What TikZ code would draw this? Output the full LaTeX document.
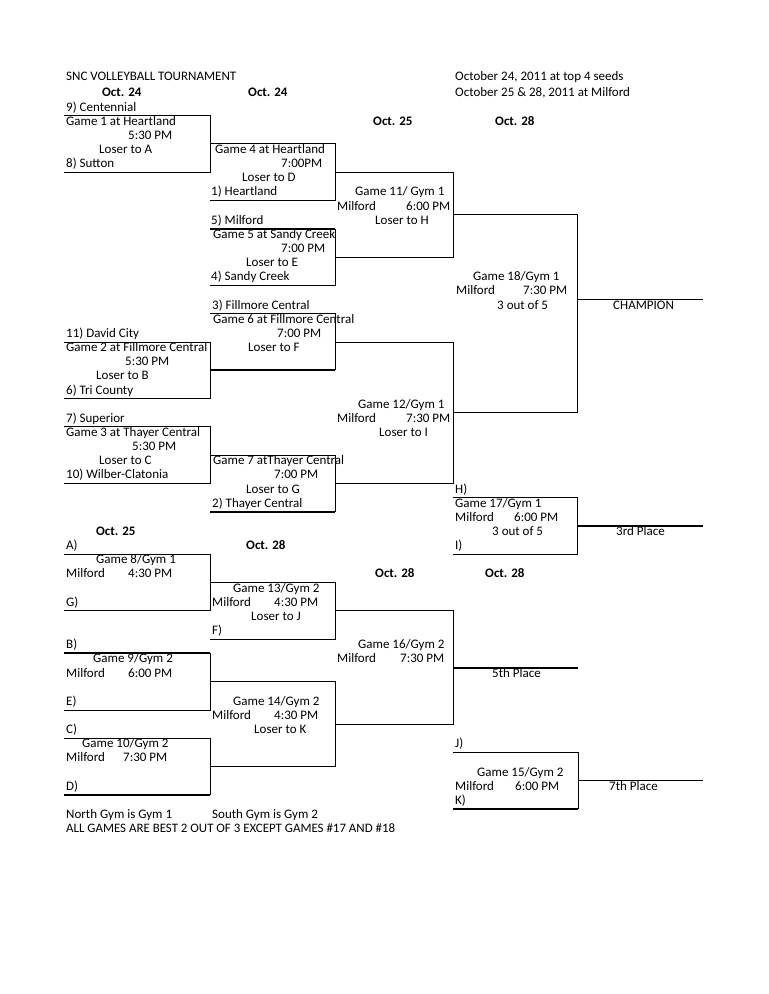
\documentclass[tikz,border=0pt]{standalone}
\usepackage{fontspec}
\setmainfont{Carlito}

\begin{document}
\begin{tikzpicture}[x=1pt,y=-14.15pt,
        txt/.style={anchor=base west,inner sep=0pt,font=\fontsize{13}{14}\selectfont},
        dia/.style={txt,font=\fontsize{13}{14}\selectfont\bfseries},
        linha/.style={line width=1pt},
        grossa/.style={line width=2pt}]
      \fill[white] (0,-7.845) rectangle (768,62.40);
      \useasboundingbox (0,-7.845) rectangle (768,62.40);
      % cabecalho
      \node[txt] (tit) at (66,-2.19) {SNC VOLLEYBALL TOURNAMENT};
      \node[txt] (dt1) at (455,-2.19) {October 24, 2011 at top 4 seeds};
      \node[txt] (dt2) at (455,-1) {October 25 \& 28, 2011 at Milford};
      \node[dia] (d1) at (102,-1) {Oct. 24};
      \node[dia] (d2) at (248,-1) {Oct. 24};
      \node[dia] (d3) at (373,1) {Oct. 25};
      \node[dia] (d4) at (495,1) {Oct. 28};
      % chave principal
      \node[txt] (t9) at (66,0) {9) Centennial};
      \node[txt] (g1) at (66,1) {Game 1 at Heartland};
      \node[txt] (g1h) at (128,2) {5:30 PM};
      \node[txt] (g1p) at (99,3) {Loser to A};
      \node[txt] (t8) at (66,4) {8) Sutton};
      \node[txt] (g4) at (215,3) {Game 4 at Heartland};
      \node[txt] (g4h) at (281,4) {7:00PM};
      \node[txt] (g4p) at (242,5) {Loser to D};
      \node[txt] (t1) at (211,6) {1) Heartland};
      \node[txt] (g11) at (355,6) {Game 11/ Gym 1};
      \node[txt] (g11l) at (337,7) {Milford};
      \node[txt] (g11h) at (406,7) {6:00 PM};
      \node[txt] (g11p) at (375,8) {Loser to H};
      \node[txt] (t5) at (211,8) {5) Milford};
      \node[txt] (g5) at (213,9) {Game 5 at Sandy Creek};
      \node[txt] (g5h) at (281,10) {7:00 PM};
      \node[txt] (g5p) at (246,11) {Loser to E};
      \node[txt] (t4) at (211,12) {4) Sandy Creek};
      \node[txt] (g18) at (473,12) {Game 18/Gym 1};
      \node[txt] (g18l) at (456,13) {Milford};
      \node[txt] (g18h) at (523,13) {7:30 PM};
      \node[txt] (g18p) at (497,14) {3 out of 5};
      \node[txt] (camp) at (613,14) {CHAMPION};
      \node[txt] (t3) at (212,14) {3) Fillmore Central};
      \node[txt] (g6) at (213,15) {Game 6 at Fillmore Central};
      \node[txt] (g6h) at (277,16) {7:00 PM};
      \node[txt] (g6p) at (248,17) {Loser to F};
      \node[txt] (t11) at (66,16) {11) David City};
      \node[txt] (g2) at (66,17) {Game 2 at Fillmore Central};
      \node[txt] (g2h) at (125,18) {5:30 PM};
      \node[txt] (g2p) at (96,19) {Loser to B};
      \node[txt] (t6) at (66,20) {6) Tri County};
      \node[txt] (g12) at (358,21) {Game 12/Gym 1};
      \node[txt] (g12l) at (337,22) {Milford};
      \node[txt] (g12h) at (406,22) {7:30 PM};
      \node[txt] (g12p) at (379,23) {Loser to I};
      \node[txt] (t7) at (66,22) {7) Superior};
      \node[txt] (g3) at (66,23) {Game 3 at Thayer Central};
      \node[txt] (g3h) at (132,24) {5:30 PM};
      \node[txt] (g3p) at (99,25) {Loser to C};
      \node[txt] (t10) at (66,26) {10) Wilber-Clatonia};
      \node[txt] (g7) at (213,25) {Game 7 atThayer Central};
      \node[txt] (g7h) at (274,26) {7:00 PM};
      \node[txt] (g7p) at (246,27) {Loser to G};
      \node[txt] (t2) at (212,28) {2) Thayer Central};
      \node[txt] (eh) at (455,27) {H)};
      \node[txt] (g17) at (455,28) {Game 17/Gym 1};
      \node[txt] (g17l) at (455,29) {Milford};
      \node[txt] (g17h) at (514,29) {6:00 PM};
      \node[txt] (g17p) at (492,30) {3 out of 5};
      \node[txt] (ei) at (455,31) {I)};
      \node[txt] (terc) at (616,30) {3rd Place};
      % chave de consolacao
      \node[dia] (d5) at (96,30) {Oct. 25};
      \node[dia] (d6) at (246,31) {Oct. 28};
      \node[dia] (d7) at (375,33) {Oct. 28};
      \node[dia] (d8) at (485,33) {Oct. 28};
      \node[txt] (ea) at (66,31) {A)};
      \node[txt] (g8) at (96,32) {Game 8/Gym 1};
      \node[txt] (g8l) at (66,33) {Milford};
      \node[txt] (g8h) at (128,33) {4:30 PM};
      \node[txt] (eg) at (66,35) {G)};
      \node[txt] (g13) at (233,34) {Game 13/Gym 2};
      \node[txt] (g13l) at (212,35) {Milford};
      \node[txt] (g13h) at (274,35) {4:30 PM};
      \node[txt] (g13p) at (251,36) {Loser to J};
      \node[txt] (ef) at (212,37) {F)};
      \node[txt] (eb) at (66,38) {B)};
      \node[txt] (g9) at (93,39) {Game 9/Gym 2};
      \node[txt] (g9l) at (66,40) {Milford};
      \node[txt] (g9h) at (128,40) {6:00 PM};
      \node[txt] (ee) at (66,42) {E)};
      \node[txt] (g16) at (358,38) {Game 16/Gym 2};
      \node[txt] (g16l) at (337,39) {Milford};
      \node[txt] (g16h) at (400,39) {7:30 PM};
      \node[txt] (quin) at (492,40) {5th Place};
      \node[txt] (g14) at (233,42) {Game 14/Gym 2};
      \node[txt] (g14l) at (212,43) {Milford};
      \node[txt] (g14h) at (274,43) {4:30 PM};
      \node[txt] (g14p) at (254,44) {Loser to K};
      \node[txt] (ec) at (66,44) {C)};
      \node[txt] (g10) at (82,45) {Game 10/Gym 2};
      \node[txt] (g10l) at (66,46) {Milford};
      \node[txt] (g10h) at (123,46) {7:30 PM};
      \node[txt] (ed) at (66,48) {D)};
      \node[txt] (ej) at (455,45) {J)};
      \node[txt] (g15) at (477,47) {Game 15/Gym 2};
      \node[txt] (g15l) at (455,48) {Milford};
      \node[txt] (g15h) at (515,48) {6:00 PM};
      \node[txt] (ek) at (455,49) {K)};
      \node[txt] (sett) at (609,48) {7th Place};
      % notas
      \node[txt] (n1) at (66,50) {North Gym is Gym 1};
      \node[txt] (n2) at (212,50) {South Gym is Gym 2};
      \node[txt,font=\fontsize{12.9}{14}\selectfont] (n3) at (66,51) {ALL GAMES ARE BEST 2 OUT OF 3 EXCEPT GAMES \#17 AND \#18};
      % linhas da chave
      \foreach \xa/\xb/\ya/\yb in {64/210/0.33/4.33, 210/335/2.33/6.33, 335/453/4.33/10.33,
          453/577/7.33/21.33, 64/210/16.33/20.33, 335/453/16.33/26.33, 64/210/22.33/26.33,
          453/577/27.33/31.33, 64/210/31.33/35.33, 210/335/33.33/37.33, 210/335/40.33/46.33,
          335/453/35.33/43.33}
        \draw[linha] (\xa,\ya) -| (\xb,\yb) -- (\xa,\yb);
      \draw[grossa] (210,8.33) -- (335,8.33);
      \draw[linha] (335,8.33) |- (210,12.33);
      \draw[linha] (210,14.33) -| (335,18.33);
      \draw[grossa] (335,18.33) -- (210,18.33);
      \draw[linha] (210,24.33) -| (335,28.33);
      \draw[grossa] (335,28.33) -- (210,28.33);
      \draw[grossa] (64,38.33) -- (210,38.33);
      \draw[linha] (210,38.33) |- (64,42.33);
      \draw[linha] (64,44.33) -| (210,48.33);
      \draw[grossa] (210,48.33) -- (64,48.33);
      \draw[linha] (453,45.33) -| (578,49.33);
      \draw[grossa] (578,49.33) -- (453,49.33);
      \draw[linha] (577,13.33) -- (703,13.33);
      \draw[grossa] (577,29.33) -- (703,29.33);
      \draw[grossa] (453,39.33) -- (578,39.33);
      \draw[linha] (578,47.33) -- (703,47.33);
    \end{tikzpicture}
\end{document}
